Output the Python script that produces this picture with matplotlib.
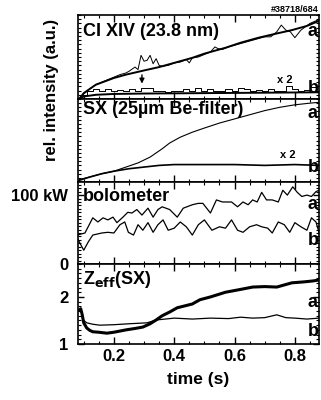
import numpy as np
import matplotlib
matplotlib.use("Agg")
from matplotlib import pyplot as plt
from matplotlib.ticker import MultipleLocator, FixedLocator, NullFormatter

plt.rcParams['font.family'] = ['Liberation Sans', 'DejaVu Sans']
plt.rcParams['font.weight'] = 'bold'

# CI XIV (23.8 nm) - relative units 0..1
t_ci_fit = [0.085, 0.1, 0.14, 0.2, 0.24, 0.3, 0.35, 0.4, 0.46, 0.5, 0.57, 0.62, 0.68, 0.74, 0.79, 0.84, 0.88]
ci_a_fit = [0.0, 0.07, 0.17, 0.25, 0.29, 0.34, 0.38, 0.43, 0.49, 0.54, 0.61, 0.67, 0.73, 0.78, 0.82, 0.87, 0.93]
t_ci_a = [0.085, 0.1, 0.12, 0.14, 0.16, 0.18, 0.2, 0.22, 0.24, 0.25, 0.27, 0.28, 0.29, 0.30, 0.31, 0.32, 0.33,
          0.34, 0.35, 0.36, 0.38, 0.40, 0.42, 0.44, 0.45, 0.46, 0.48, 0.50, 0.52, 0.535, 0.545, 0.56, 0.58,
          0.60, 0.62, 0.64, 0.66, 0.68, 0.70, 0.72, 0.74, 0.755, 0.77, 0.785, 0.80, 0.82, 0.85, 0.876]
ci_a = [0.01, 0.06, 0.12, 0.17, 0.20, 0.23, 0.26, 0.29, 0.31, 0.33, 0.38, 0.35, 0.52, 0.45, 0.46, 0.52, 0.42,
        0.48, 0.40, 0.39, 0.40, 0.43, 0.44, 0.47, 0.43, 0.49, 0.50, 0.53, 0.56, 0.62, 0.60, 0.59, 0.62,
        0.64, 0.66, 0.68, 0.70, 0.72, 0.74, 0.74, 0.80, 0.88, 0.82, 0.80, 0.73, 0.82, 0.90, 0.94]
t_ci_bfit = [0.085, 0.1, 0.14, 0.2, 0.3, 0.5, 0.7, 0.88]
ci_b_fit = [0.0, 0.03, 0.05, 0.06, 0.065, 0.07, 0.075, 0.08]
t_ci_b = [0.085, 0.10, 0.12, 0.14, 0.16, 0.18, 0.20, 0.22, 0.24, 0.26, 0.28, 0.30, 0.32, 0.34, 0.36, 0.38,
          0.40, 0.42, 0.44, 0.46, 0.48, 0.50, 0.52, 0.54, 0.56, 0.58, 0.60, 0.62, 0.64, 0.66, 0.68, 0.70,
          0.72, 0.74, 0.76, 0.78, 0.80, 0.82, 0.84, 0.86, 0.88]
ci_b = [0.01, 0.05, 0.09, 0.12, 0.10, 0.12, 0.09, 0.11, 0.09, 0.12, 0.10, 0.13, 0.13, 0.09, 0.10, 0.08,
        0.10, 0.09, 0.12, 0.09, 0.13, 0.10, 0.12, 0.09, 0.10, 0.12, 0.09, 0.13, 0.12, 0.09, 0.11, 0.09,
        0.12, 0.10, 0.09, 0.15, 0.12, 0.09, 0.11, 0.14, 0.10]

# SX (25um Be-filter)
t_sx_a = [0.085, 0.12, 0.16, 0.2, 0.24, 0.28, 0.32, 0.36, 0.385, 0.42, 0.46, 0.5, 0.55, 0.6, 0.65, 0.7, 0.75, 0.8, 0.85, 0.88]
sx_a = [0.03, 0.06, 0.10, 0.13, 0.18, 0.23, 0.30, 0.40, 0.47, 0.54, 0.60, 0.65, 0.71, 0.76, 0.81, 0.86, 0.90, 0.93, 0.95, 0.96]
t_sx_b = [0.085, 0.12, 0.16, 0.2, 0.25, 0.3, 0.35, 0.4, 0.5, 0.6, 0.7, 0.8, 0.88]
sx_b = [0.02, 0.06, 0.10, 0.13, 0.16, 0.18, 0.20, 0.21, 0.21, 0.21, 0.20, 0.21, 0.20]

# bolometer (kW)
t_bolo_a = [0.078, 0.104, 0.13, 0.147, 0.164, 0.18, 0.197, 0.21, 0.23, 0.246, 0.26, 0.276, 0.293, 0.313, 0.33,
            0.346, 0.36, 0.385, 0.41, 0.43, 0.46, 0.48, 0.495, 0.52, 0.54, 0.56, 0.59, 0.61, 0.628, 0.645,
            0.66, 0.675, 0.69, 0.706, 0.725, 0.745, 0.76, 0.775, 0.793, 0.808, 0.823, 0.84, 0.855, 0.87, 0.88]
bolo_a = [42, 45, 67, 61, 67, 64, 68, 60, 68, 75, 74, 79, 71, 81, 68,
          79, 83, 79, 68, 81, 86, 88, 88, 74, 93, 90, 90, 83, 90, 86,
          93, 90, 104, 93, 93, 90, 107, 100, 112, 104, 98, 100, 98, 105, 107]
t_bolo_b = [0.078, 0.1, 0.115, 0.13, 0.16, 0.18, 0.2, 0.22, 0.236, 0.248, 0.265, 0.28, 0.296, 0.313, 0.33, 0.346,
            0.363, 0.38, 0.4, 0.42, 0.44, 0.46, 0.48, 0.5, 0.525, 0.55, 0.57, 0.59, 0.61, 0.628, 0.65, 0.673,
            0.69, 0.71, 0.725, 0.745, 0.765, 0.783, 0.8, 0.82, 0.84, 0.855, 0.87, 0.88]
bolo_b = [38, 20, 32, 42, 45, 46, 45, 57, 61, 46, 42, 57, 49, 60, 46, 57,
          64, 49, 52, 61, 54, 42, 57, 64, 49, 54, 52, 64, 49, 46, 54, 57,
          54, 52, 45, 61, 57, 46, 60, 54, 49, 67, 61, 46]

# Zeff (SX)
t_z_a = [0.085, 0.09, 0.095, 0.10, 0.11, 0.12, 0.13, 0.15, 0.177, 0.20, 0.24, 0.27, 0.296, 0.32, 0.34, 0.36,
         0.385, 0.41, 0.46, 0.485, 0.52, 0.57, 0.62, 0.66, 0.70, 0.74, 0.79, 0.83, 0.86, 0.88]
z_a = [1.72, 1.75, 1.62, 1.45, 1.34, 1.29, 1.26, 1.25, 1.23, 1.25, 1.30, 1.33, 1.36, 1.43, 1.51, 1.60,
       1.68, 1.77, 1.85, 1.94, 2.00, 2.10, 2.16, 2.21, 2.22, 2.21, 2.30, 2.32, 2.34, 2.36]
t_z_b = [0.085, 0.09, 0.095, 0.10, 0.11, 0.13, 0.153, 0.2, 0.25, 0.31, 0.34, 0.4, 0.46, 0.52, 0.58, 0.62,
         0.66, 0.7, 0.74, 0.77, 0.8, 0.84, 0.88]
z_b = [1.72, 1.75, 1.62, 1.50, 1.45, 1.42, 1.40, 1.41, 1.43, 1.45, 1.51, 1.55, 1.53, 1.55, 1.54, 1.57,
       1.55, 1.56, 1.62, 1.56, 1.55, 1.53, 1.55]

xlim = (0.081, 0.88)

fig = plt.figure(figsize=(3.21, 4.0), dpi=100)
left, width = 78 / 321, 241 / 321
edges = [15, 99, 182, 264, 344]
axes = []
for i in range(4):
    top, bot = edges[i], edges[i + 1]
    ax = fig.add_axes([left, 1 - bot / 400, width, (bot - top) / 400])
    axes.append(ax)

ax1, ax2, ax3, ax4 = axes

ax1.plot(t_ci_a, ci_a, color='k', lw=0.7)
ax1.plot(t_ci_fit, ci_a_fit, color='k', lw=1.4)
ax1.plot(t_ci_b, ci_b, color='k', lw=0.7, drawstyle='steps-mid')
ax1.plot(t_ci_bfit, ci_b_fit, color='k', lw=1.4)
ax1.set_ylim(0, 1)
ax1.annotate('', xy=(0.293, 0.15), xytext=(0.293, 0.32),
             arrowprops=dict(arrowstyle='-|>', color='k', lw=1.0, mutation_scale=7))
ax1.text(0.767, 0.23, 'x 2', fontsize=8, ha='center', va='center')

ax2.plot(t_sx_a, sx_a, color='k', lw=0.8)
ax2.plot(t_sx_b, sx_b, color='k', lw=1.2)
ax2.set_ylim(0, 1)
ax2.text(0.777, 0.33, 'x 2', fontsize=8, ha='center', va='center')

ax3.plot(t_bolo_a, bolo_a, color='k', lw=0.9)
ax3.plot(t_bolo_b, bolo_b, color='k', lw=0.9)
ax3.set_ylim(0, 119)

ax4.plot(t_z_a, z_a, color='k', lw=2.2)
ax4.plot(t_z_b, z_b, color='k', lw=0.9)
ax4.set_ylim(1, 2.7)

titles = ['CI XIV (23.8 nm)', 'SX (25\u00b5m Be-filter)', 'bolometer', r'Z$_{\mathbf{eff}}$(SX)']
title_y = [0.80, 0.87, 0.82, 0.80]
a_y = [0.80, 0.82, 0.72, 0.52]
b_y = [0.13, 0.17, 0.29, 0.15]
for ax, ttl, ty, ay, by in zip(axes, titles, title_y, a_y, b_y):
    ax.set_xlim(*xlim)
    ax.text(0.02, ty, ttl, transform=ax.transAxes, fontsize=13, fontweight='bold', va='center', ha='left')
    ax.text(0.975, ay, 'a', transform=ax.transAxes, fontsize=13, fontweight='bold', va='center', ha='center')
    ax.text(0.975, by, 'b', transform=ax.transAxes, fontsize=13, fontweight='bold', va='center', ha='center')
    ax.xaxis.set_major_locator(FixedLocator([0.2, 0.4, 0.6, 0.8]))
    ax.xaxis.set_minor_locator(MultipleLocator(0.05))
    ax.tick_params(axis='both', which='both', direction='in', top=True, right=True)
    ax.tick_params(axis='x', which='major', length=5, width=1)
    ax.tick_params(axis='x', which='minor', length=2, width=0.8)
    ax.tick_params(axis='y', which='major', length=4, width=1, pad=7)
    ax.tick_params(axis='y', which='minor', length=2, width=0.8)
    ax.tick_params(labelsize=12)
    for s in ax.spines.values():
        s.set_linewidth(1.2)
    if ax is not ax4:
        ax.xaxis.set_major_formatter(NullFormatter())

ax1.yaxis.set_major_locator(FixedLocator([]))
ax1.yaxis.set_minor_locator(MultipleLocator(0.05))
ax2.yaxis.set_major_locator(FixedLocator([]))
ax2.yaxis.set_minor_locator(MultipleLocator(0.05))
ax3.yaxis.set_major_locator(FixedLocator([0, 100]))
ax3.set_yticklabels(['0', '100 kW'])
ax3.yaxis.set_minor_locator(MultipleLocator(5))
ax4.yaxis.set_major_locator(FixedLocator([1, 2]))
ax4.set_yticklabels(['1', '2'])
ax4.yaxis.set_minor_locator(MultipleLocator(0.1))
for lab in ax3.get_yticklabels() + ax4.get_yticklabels() + ax4.get_xticklabels():
    lab.set_fontweight('bold')

ax4.set_xlabel('time (s)', fontsize=12.5, fontweight='bold', labelpad=6)
fig.text(52 / 321, 1 - 90 / 400, 'rel. intensity (a.u.)', rotation=90, fontsize=12,
         fontweight='bold', ha='center', va='center')
fig.text(319 / 321, 1 - 9 / 400, '#38718/684', fontsize=6.5, fontweight='bold', ha='right', va='center')

fig.savefig('out.png', dpi=100)
